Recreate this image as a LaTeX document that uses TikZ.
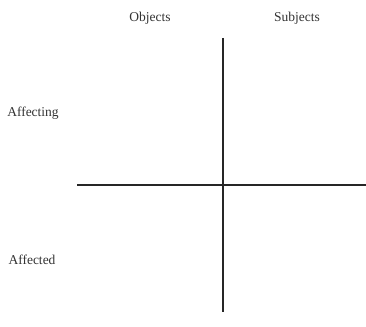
\documentclass[tikz,border=0pt]{standalone}
\usepackage{fontspec}
\setmainfont{Liberation Serif}
\begin{document}
\begin{tikzpicture}[x=1pt,y=-1pt,
  lbl/.style={font=\fontsize{13.5}{15}\selectfont, text=black!80, inner sep=0pt, anchor=base},
  axis/.style={line width=1.8pt, draw=black!85}]
\useasboundingbox (0,0) rectangle (366,326);
\node[lbl] (obj) at (150,22) {Objects};
\node[lbl] (sub) at (297,22) {Subjects};
\node[lbl] (aing) at (33,117) {Affecting};
\node[lbl] (aed) at (32,264) {Affected};
\coordinate (vt) at (223.2,38);
\coordinate (vb) at (223.2,312);
\coordinate (hl) at (77,185);
\coordinate (hr) at (366,185);
\draw[axis] (vt) -- (vb);
\draw[axis] (hl) -- (hr);
\end{tikzpicture}
\end{document}
